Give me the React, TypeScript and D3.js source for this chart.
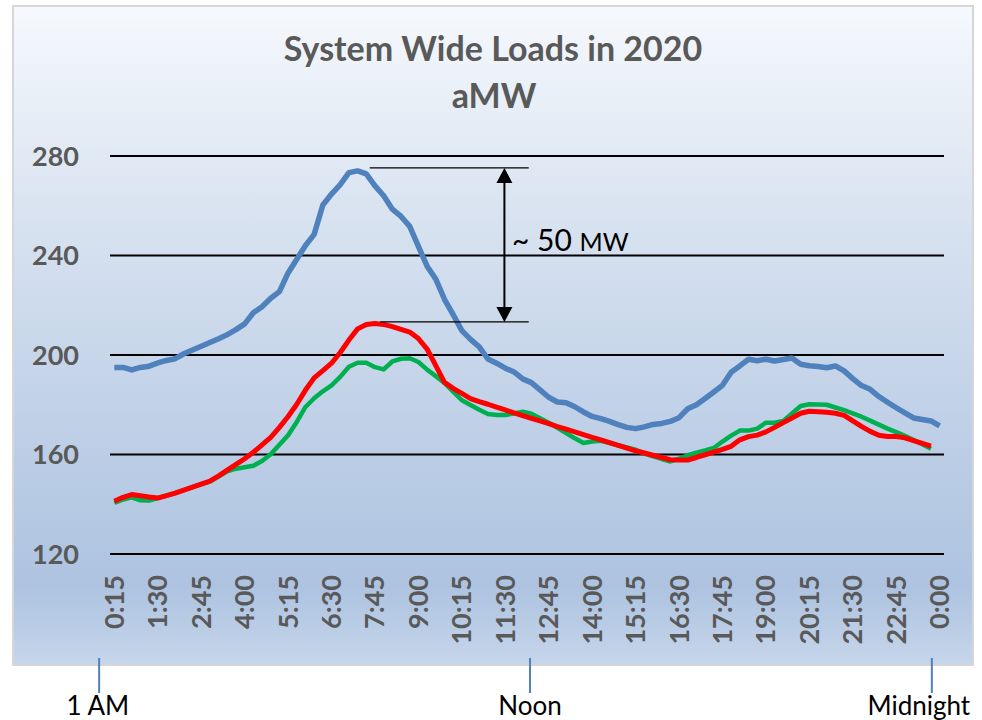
import * as d3 from "d3";

// 15-minute slots, 0:15 through 0:00 (next day)
const CATEGORIES = d3.range(96).map((i) => {
  const m = ((i + 1) * 15) % 1440;
  return `${Math.floor(m / 60)}:${String(m % 60).padStart(2, "0")}`;
});

const TICK_LABELS = [
  "0:15", "1:30", "2:45", "4:00", "5:15", "6:30", "7:45", "9:00", "10:15", "11:30",
  "12:45", "14:00", "15:15", "16:30", "17:45", "19:00", "20:15", "21:30", "22:45", "0:00",
];

const Y_TICKS = [120, 160, 200, 240, 280];

// blue series (one value per 15-min slot)
const BLUE = [
  195, 195, 194, 195, 195.5, 196.8, 197.8, 198.5, 200.5, 202,
  203.5, 205, 206.5, 208.2, 210.2, 212.5, 217, 219.4, 222.8, 225.5,
  233, 238.5, 244, 248.5, 260.3, 264.7, 268.5, 273.3, 274, 272.8,
  268, 264, 258.6, 255.7, 251.7, 243.7, 235.7, 230.5, 222.4, 216.2,
  209.8, 206.3, 203.3, 198.4, 196.7, 194.7, 193.2, 190.4, 188.9, 186,
  183, 181.1, 180.8, 179.2, 177.1, 175.3, 174.4, 173.3, 172, 170.9,
  170.4, 171.1, 172.1, 172.5, 173.3, 174.8, 178.4, 180, 182.5, 185.1,
  187.8, 193.1, 195.6, 198.3, 197.7, 198.3, 197.6, 198.2, 198.8, 196.3,
  195.7, 195.4, 194.9, 195.6, 193.6, 190.5, 187.7, 186.2, 183.3, 181,
  178.8, 176.7, 174.7, 174.1, 173.5, 171.5,
];

const GREEN = [
  140.5, 141.9, 142.8, 141.6, 141.5, 142.5, 143.5, 144.5, 145.7, 146.9,
  148.1, 149.1, 151.1, 153.2, 154.3, 154.9, 155.5, 157.4, 160.1, 163.9,
  167.7, 173.1, 179.1, 182.6, 185.4, 187.8, 191.2, 195.3, 196.9, 196.9,
  195.1, 194.2, 197.4, 198.5, 198.7, 197.2, 194.1, 191.5, 188.8, 185.3,
  181.8, 179.9, 178, 176.3, 175.9, 175.9, 176.5, 177.2, 176.4, 174.6,
  172.8, 170.7, 168.6, 166.5, 164.6, 165.2, 165.5, 164.6, 163.7, 162.8,
  161.9, 160.4, 159.3, 158.2, 157.2, 158.3, 159.7, 160.7, 161.6, 162.6,
  165.2, 167.6, 169.6, 169.6, 170.4, 172.8, 172.8, 173.5, 176.5, 179.5,
  180.2, 180.1, 180, 178.9, 177.8, 176.5, 175.2, 173.6, 172, 170.4,
  169, 167.5, 165.8, 164.1, 162.3,
];

const RED = [
  141.2, 142.8, 143.9, 143.4, 142.9, 142.5, 143.5, 144.5, 145.7, 146.9,
  148.1, 149.3, 151.4, 153.7, 156, 158.3, 160.9, 163.9, 166.9, 170.9,
  175.3, 180.2, 185.9, 190.8, 193.7, 196.7, 201, 206, 210.5, 212.3,
  212.7, 212.3, 211.4, 210.3, 209.2, 206.6, 202.4, 195.7, 189, 186.6,
  184.6, 182.5, 181.3, 180.2, 179, 177.9, 176.7, 175.6, 174.5, 173.5,
  172.4, 171.2, 170.2, 169.1, 168, 166.9, 165.9, 164.8, 163.7, 162.6,
  161.5, 160.6, 159.7, 158.8, 157.9, 157.8, 157.8, 158.8, 159.9, 161,
  162.1, 163.3, 165.9, 167.2, 167.8, 169.1, 170.9, 172.8, 174.7, 176.6,
  177.4, 177.2, 177, 176.6, 175.7, 173.5, 171.3, 169.3, 167.7, 167.2,
  167.2, 166.7, 165.6, 164.5, 163.4,
];

const SERIES = [
  { name: "blue", values: BLUE, color: "#4f81bd", width: 5.5 },
  { name: "green", values: GREEN, color: "#00b050", width: 4.5 },
  { name: "red", values: RED, color: "#ff0000", width: 5 },
];

const FONT = "Lato, 'Open Sans', sans-serif";
const GRAY = "#595959";

export default function App() {
  const W = 982;
  const H = 720;
  const box = { x: 13, y: 6, w: 960, h: 659 };
  const plot = { left: 110, right: 944, top: 156, bottom: 554 };

  const xBand = d3
    .scaleBand<string>()
    .domain(CATEGORIES)
    .range([plot.left, plot.right])
    .padding(0);
  const xc = (i: number) => (xBand(CATEGORIES[i]) ?? 0) + xBand.bandwidth() / 2;
  // fractional slot position, used for the annotations
  const xIdx = d3
    .scaleLinear()
    .domain([0, CATEGORIES.length - 1])
    .range([xc(0), xc(CATEGORIES.length - 1)]);

  const y = d3.scaleLinear().domain([120, 280]).range([plot.bottom, plot.top]);

  const line = d3
    .line<number>()
    .x((_, i) => xc(i))
    .y((d) => y(d));

  const topY = y(275.2);
  const lowY = y(213.3);
  const arrowX = xIdx(44.9);
  const ah = 15;
  const aw = 8;

  const marks = [
    { label: "1 AM", tick: xIdx(-1.75), text: xIdx(-1.9) },
    { label: "Noon", tick: xIdx(47.85), text: xIdx(47.85) },
    { label: "Midnight", tick: xIdx(94.1), text: xIdx(92.6) },
  ];

  return (
    <svg
      width={W}
      height={H}
      style={{ position: "absolute", left: 0, top: 0, background: "#fff" }}
    >
      <defs>
        <linearGradient id="bg" x1="0" y1="0" x2="0" y2="1">
          <stop offset="0" stopColor="#f6f9fd" />
          <stop offset="0.3" stopColor="#dae4f1" />
          <stop offset="0.6" stopColor="#c2d2e8" />
          <stop offset="0.88" stopColor="#adc3e0" />
          <stop offset="1" stopColor="#c6d6eb" />
        </linearGradient>
      </defs>

      <rect
        x={box.x}
        y={box.y}
        width={box.w}
        height={box.h}
        fill="url(#bg)"
        stroke="#d6d6d6"
        strokeWidth={2}
      />

      <text
        x={493}
        y={61}
        textAnchor="middle"
        fontFamily={FONT}
        fontWeight={700}
        fontSize={34}
        fill={GRAY}
      >
        System Wide Loads in 2020
      </text>
      <text
        x={494}
        y={108}
        textAnchor="middle"
        fontFamily={FONT}
        fontWeight={700}
        fontSize={34}
        fill={GRAY}
      >
        aMW
      </text>

      {/* gridlines + y labels */}
      {Y_TICKS.map((v) => (
        <g key={v}>
          <line
            x1={plot.left}
            x2={plot.right}
            y1={y(v)}
            y2={y(v)}
            stroke="#000"
            strokeWidth={1.8}
          />
          <text
            x={79}
            y={y(v)}
            dy="0.36em"
            textAnchor="end"
            fontFamily={FONT}
            fontWeight={700}
            fontSize={27}
            fill={GRAY}
          >
            {v}
          </text>
        </g>
      ))}

      {/* x labels, rotated */}
      {TICK_LABELS.map((t) => {
        const i = CATEGORIES.indexOf(t);
        return (
          <text
            key={t}
            transform={`translate(${xc(i) + 9.5},575) rotate(-90)`}
            textAnchor="end"
            fontFamily={FONT}
            fontWeight={700}
            fontSize={27}
            fill={GRAY}
          >
            {t}
          </text>
        );
      })}

      {SERIES.map((s) => (
        <path
          key={s.name}
          d={line(s.values) ?? ""}
          fill="none"
          stroke={s.color}
          strokeWidth={s.width}
          strokeLinejoin="round"
        />
      ))}

      {/* ~50 MW annotation */}
      <g stroke="#000" strokeWidth={1.3}>
        <line x1={xIdx(29.4)} x2={xIdx(47.7)} y1={topY} y2={topY} />
        <line x1={xIdx(30.6)} x2={xIdx(47.7)} y1={lowY} y2={lowY} />
        <line x1={arrowX} x2={arrowX} y1={topY + ah} y2={lowY - ah} strokeWidth={2} />
      </g>
      <path
        d={`M${arrowX},${topY} L${arrowX - aw},${topY + ah} L${arrowX + aw},${topY + ah} Z`}
        fill="#000"
      />
      <path
        d={`M${arrowX},${lowY} L${arrowX - aw},${lowY - ah} L${arrowX + aw},${lowY - ah} Z`}
        fill="#000"
      />
      <text x={512} y={251} fontFamily={FONT} fontSize={30} fill="#000">
        ~ 50 <tspan fontSize={25}>MW</tspan>
      </text>

      {/* bottom time markers */}
      {marks.map((m) => (
        <g key={m.label}>
          <line
            x1={m.tick}
            x2={m.tick}
            y1={658}
            y2={693}
            stroke="#4f81bd"
            strokeWidth={2}
          />
          <text
            x={m.text}
            y={715}
            textAnchor="middle"
            fontFamily={FONT}
            fontSize={26}
            fill="#000"
          >
            {m.label}
          </text>
        </g>
      ))}
    </svg>
  );
}
